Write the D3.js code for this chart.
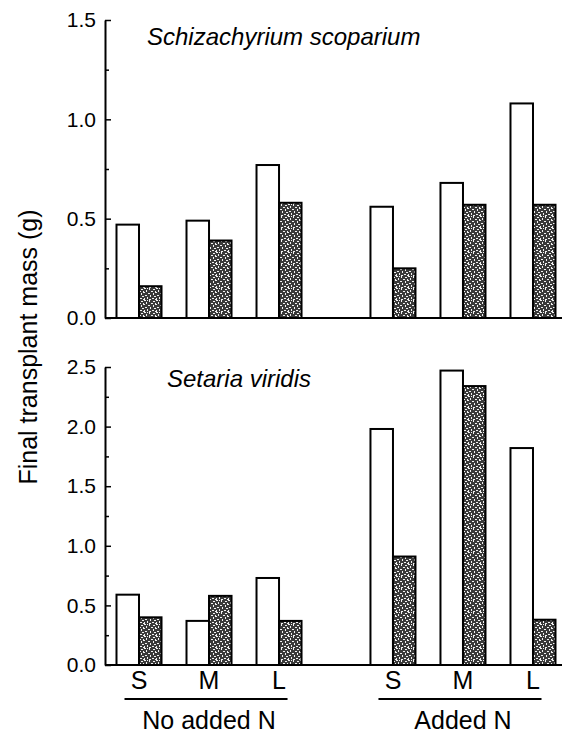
<!DOCTYPE html>
<html>
<head>
<meta charset="utf-8">
<script src="https://cdn.jsdelivr.net/npm/d3@7"></script>
<style>
  html, body { margin: 0; padding: 0; background: #fff; }
  svg { display: block; font-family: "Liberation Sans", Arial, Helvetica, sans-serif; }
</style>
</head>
<body>
<div id="chart"></div>
<script>
// categories
const sizes = ['S', 'M', 'L'];
const treatments = ['No added N', 'Added N'];
const series = ['open', 'stippled'];

// values, in order: No added N S,M,L then Added N S,M,L
const schizOpen     = [0.47, 0.49, 0.77, 0.56, 0.68, 1.08];
const schizStippled = [0.16, 0.39, 0.58, 0.25, 0.57, 0.57];
const setariaOpen     = [0.59, 0.37, 0.73, 1.98, 2.47, 1.82];
const setariaStippled = [0.40, 0.58, 0.37, 0.91, 2.34, 0.38];

// tick labels
const schizTicks = [0, 0.5, 1.0, 1.5];
const setariaTicks = [0, 0.5, 1.0, 1.5, 2.0, 2.5];

const W = 562, H = 734;
const AXIS_X = 105;

const svg = d3.select('#chart').append('svg')
  .attr('width', W).attr('height', H);

// stipple texture for the shaded bars (fixed speckle layout)
const defs = svg.append('defs');
const pat = defs.append('pattern')
  .attr('id', 'stipple')
  .attr('patternUnits', 'userSpaceOnUse')
  .attr('width', 12).attr('height', 12);
pat.append('rect').attr('width', 12).attr('height', 12).attr('fill', '#3a3a3a');
const specks = [
  [0,0,2,1],[5,0,1,2],[9,1,2,1],[2,2,1,2],[7,3,2,1],[11,3,1,2],
  [0,4,1,1],[4,5,2,1],[9,5,1,2],[1,7,2,1],[6,7,1,2],[10,8,2,1],
  [3,9,1,2],[8,10,2,1],[0,10,1,2],[5,11,2,1],[11,11,1,1],[3,0,1,1]
];
specks.forEach(([x, y, w, h]) => {
  pat.append('rect').attr('x', x).attr('y', y).attr('width', w).attr('height', h).attr('fill', '#f2f2f2');
});

// x layout: treatment groups, size slots within group, two bars per slot
const xGroup = d3.scaleBand().domain(treatments).range([104, 568]).paddingInner(0.173);
const xSize = d3.scaleBand().domain(sizes).range([0, xGroup.bandwidth()])
  .paddingInner(0.357).paddingOuter(0.1785);
const xSeries = d3.scaleBand().domain(series).range([0, xSize.bandwidth()]);

const cells = [];
treatments.forEach(t => sizes.forEach(s => cells.push({ treatment: t, size: s })));
const slotX = (c) => xGroup(c.treatment) + xSize(c.size);

const panels = [
  { title: 'Schizachyrium scoparium', open: schizOpen, stippled: schizStippled,
    ticks: schizTicks, max: 1.5, range: [318, 20], titleX: 147, titleY: 45 },
  { title: 'Setaria viridis', open: setariaOpen, stippled: setariaStippled,
    ticks: setariaTicks, max: 2.5, range: [665, 367], titleX: 167, titleY: 387 }
];

panels.forEach(p => {
  const y = d3.scaleLinear().domain([0, p.max]).range(p.range);
  const g = svg.append('g');

  // bars
  const rows = cells.map((c, i) => ({ ...c, open: p.open[i], stippled: p.stippled[i] }));
  series.forEach(key => {
    g.selectAll(`.bar-${key}`)
      .data(rows)
      .enter().append('rect')
      .attr('class', `bar-${key}`)
      .attr('x', d => slotX(d) + xSeries(key))
      .attr('width', xSeries.bandwidth())
      .attr('y', d => y(d[key]))
      .attr('height', d => y(0) - y(d[key]))
      .attr('fill', key === 'open' ? '#fff' : 'url(#stipple)')
      .attr('stroke', '#000')
      .attr('stroke-width', 2);
  });

  // baseline
  g.append('line')
    .attr('x1', AXIS_X).attr('x2', W)
    .attr('y1', y(0)).attr('y2', y(0))
    .attr('stroke', '#000').attr('stroke-width', 2.2);

  // minor ticks
  const minor = d3.range(0.25, p.max, 0.5);
  const minorAxis = d3.axisLeft(y).tickValues(minor).tickSize(-4).tickFormat('');
  const gm = g.append('g').attr('transform', `translate(${AXIS_X},0)`).call(minorAxis);
  gm.select('.domain').remove();

  // major ticks + labels
  const axis = d3.axisLeft(y).tickValues(p.ticks).tickSizeInner(-6).tickSizeOuter(0)
    .tickPadding(9).tickFormat(d3.format('.1f'));
  const ga = g.append('g').attr('transform', `translate(${AXIS_X},0)`).call(axis);
  ga.select('.domain').attr('stroke-width', 2);
  ga.selectAll('.tick line').attr('stroke-width', 1.5);
  gm.selectAll('.tick line').attr('stroke-width', 1.5);
  ga.selectAll('.tick text')
    .attr('font-size', 21)
    .attr('font-family', '"Liberation Sans", Arial, sans-serif')
    .attr('fill', '#000');

  // species title
  g.append('text')
    .attr('x', p.titleX).attr('y', p.titleY)
    .attr('font-size', 24)
    .attr('font-style', 'italic')
    .text(p.title);
});

// size labels under bottom panel
svg.append('g').selectAll('text')
  .data(cells)
  .enter().append('text')
  .attr('x', d => slotX(d) + xSize.bandwidth() / 2)
  .attr('y', 689)
  .attr('text-anchor', 'middle')
  .attr('font-size', 25)
  .text(d => d.size);

// treatment brackets
const tg = svg.append('g').selectAll('g')
  .data(treatments)
  .enter().append('g');
tg.append('line')
  .attr('x1', d => xGroup(d) + xSize('S') + 8)
  .attr('x2', d => xGroup(d) + xSize('L') + xSize.bandwidth() - 14)
  .attr('y1', 699).attr('y2', 699)
  .attr('stroke', '#000').attr('stroke-width', 2);
tg.append('text')
  .attr('x', d => xGroup(d) + xGroup.bandwidth() / 2)
  .attr('y', 729)
  .attr('text-anchor', 'middle')
  .attr('font-size', 25)
  .text(d => d);

// y axis title
svg.append('text')
  .attr('transform', 'translate(37,347) rotate(-90)')
  .attr('text-anchor', 'middle')
  .attr('font-size', 25)
  .text('Final transplant mass (g)');
</script>
</body>
</html>
